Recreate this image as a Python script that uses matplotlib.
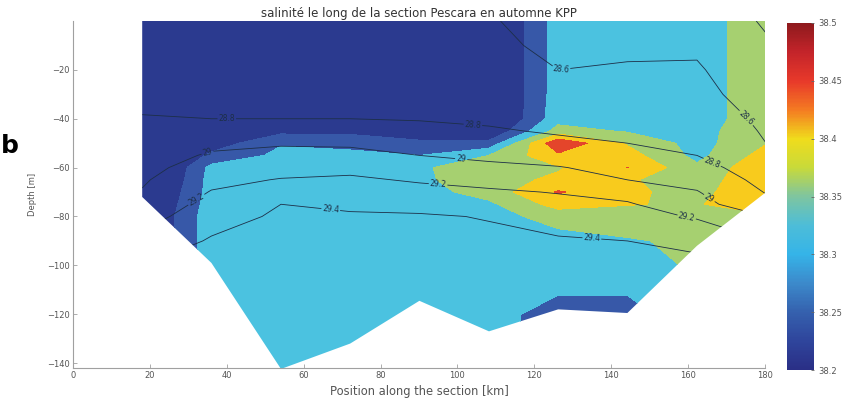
import matplotlib
matplotlib.use("Agg")
import matplotlib.pyplot as plt
import numpy as np
from matplotlib.colors import LinearSegmentedColormap, Normalize
from matplotlib.patches import Polygon
import matplotlib.cm as cm

# ---------------- data ----------------
stations_km = [18.0, 36.0, 54.1, 72.1, 90.1, 108.2, 126.2, 144.2, 162.3, 180.3]
bottom_m = [-72, -99, -142.4, -132, -114.5, -127, -118, -119.5, -92, -70]
depth_m = [0, -10, -20, -30, -40, -45, -50, -55, -60, -65, -70, -75, -80,
           -90, -100, -110, -120, -130, -145]

# salinity, rows = depth_m, columns = stations_km
salinity = [
    [38.17, 38.20, 38.20, 38.20, 38.20, 38.17, 38.325, 38.33, 38.33, 38.375],
    [38.17, 38.20, 38.20, 38.20, 38.20, 38.17, 38.325, 38.33, 38.33, 38.375],
    [38.17, 38.20, 38.20, 38.20, 38.20, 38.17, 38.325, 38.33, 38.33, 38.375],
    [38.17, 38.20, 38.20, 38.20, 38.20, 38.17, 38.325, 38.33, 38.33, 38.375],
    [38.17, 38.20, 38.20, 38.20, 38.20, 38.17, 38.33, 38.33, 38.33, 38.375],
    [38.17, 38.21, 38.235, 38.24, 38.22, 38.20, 38.37, 38.345, 38.33, 38.39],
    [38.16, 38.22, 38.296, 38.275, 38.26, 38.265, 38.49, 38.395, 38.33, 38.398],
    [38.14, 38.262, 38.312, 38.32, 38.30, 38.35, 38.44, 38.42, 38.335, 38.42],
    [38.13, 38.315, 38.32, 38.32, 38.345, 38.37, 38.395, 38.451, 38.36, 38.44],
    [38.14, 38.32, 38.32, 38.32, 38.34, 38.38, 38.41, 38.405, 38.375, 38.44],
    [38.16, 38.32, 38.32, 38.32, 38.33, 38.37, 38.455, 38.408, 38.385, 38.44],
    [38.17, 38.325, 38.32, 38.32, 38.325, 38.34, 38.42, 38.402, 38.395, 38.44],
    [38.18, 38.33, 38.32, 38.32, 38.32, 38.33, 38.37, 38.38, 38.385, 38.39],
    [38.18, 38.33, 38.32, 38.32, 38.32, 38.32, 38.33, 38.345, 38.36, 38.38],
    [38.18, 38.33, 38.32, 38.32, 38.32, 38.32, 38.32, 38.32, 38.36, 38.38],
    [38.18, 38.33, 38.32, 38.32, 38.32, 38.33, 38.31, 38.31, 38.36, 38.38],
    [38.18, 38.33, 38.32, 38.32, 38.32, 38.33, 38.265, 38.265, 38.36, 38.38],
    [38.18, 38.33, 38.32, 38.32, 38.32, 38.33, 38.265, 38.265, 38.36, 38.38],
    [38.18, 38.33, 38.32, 38.32, 38.32, 38.33, 38.265, 38.265, 38.36, 38.38],
]

# density (sigma), rows = depth_m, columns = stations_km
density = [
    [28.70, 28.70, 28.70, 28.70, 28.70, 28.62, 28.50, 28.50, 28.52, 28.38],
    [28.71, 28.71, 28.71, 28.71, 28.71, 28.65, 28.55, 28.56, 28.57, 28.42],
    [28.72, 28.72, 28.72, 28.72, 28.72, 28.68, 28.60, 28.62, 28.62, 28.46],
    [28.75, 28.75, 28.75, 28.75, 28.74, 28.72, 28.66, 28.66, 28.66, 28.50],
    [28.81, 28.80, 28.80, 28.80, 28.79, 28.77, 28.74, 28.72, 28.71, 28.56],
    [28.84, 28.87, 28.90, 28.88, 28.85, 28.82, 28.78, 28.76, 28.74, 28.58],
    [28.88, 28.96, 28.98, 28.97, 28.92, 28.89, 28.84, 28.80, 28.77, 28.60],
    [28.92, 29.02, 29.06, 29.06, 29.00, 28.96, 28.92, 28.86, 28.80, 28.64],
    [28.95, 29.08, 29.13, 29.15, 29.09, 29.04, 29.01, 28.94, 28.87, 28.69],
    [28.98, 29.15, 29.21, 29.23, 29.18, 29.13, 29.10, 29.00, 28.94, 28.74],
    [29.01, 29.21, 29.30, 29.30, 29.26, 29.23, 29.19, 29.13, 29.01, 28.79],
    [29.05, 29.27, 29.40, 29.37, 29.34, 29.31, 29.26, 29.22, 29.07, 28.85],
    [29.12, 29.32, 29.43, 29.42, 29.42, 29.39, 29.32, 29.28, 29.18, 29.00],
    [29.26, 29.42, 29.45, 29.45, 29.45, 29.44, 29.42, 29.40, 29.36, 29.20],
    [29.40, 29.45, 29.46, 29.46, 29.46, 29.46, 29.45, 29.45, 29.44, 29.40],
    [29.45, 29.46, 29.47, 29.47, 29.47, 29.47, 29.46, 29.46, 29.46, 29.45],
    [29.46, 29.47, 29.48, 29.48, 29.48, 29.48, 29.47, 29.47, 29.47, 29.46],
    [29.46, 29.47, 29.48, 29.48, 29.48, 29.48, 29.47, 29.47, 29.47, 29.46],
    [29.46, 29.47, 29.48, 29.48, 29.48, 29.48, 29.47, 29.47, 29.47, 29.46],
]

fill_levels = [38.0, 38.25, 38.30, 38.35, 38.40, 38.45, 38.6]
density_levels = [28.4, 28.6, 28.8, 29.0, 29.2, 29.4]
cbar_ticks = [38.2, 38.25, 38.3, 38.35, 38.4, 38.45, 38.5]
cbar_labels = ["38.2", "38.25", "38.3", "38.35", "38.4", "38.45", "38.5"]
xticks = [0, 20, 40, 60, 80, 100, 120, 140, 160, 180]
yticks = [-140, -120, -100, -80, -60, -40, -20]

title = "salinité le long de la section Pescara en automne KPP"
xlabel = "Position along the section [km]"
ylabel = "Depth [m]"
panel_letter = "b"

# ---------------- style ----------------
fill_colors = ["#2b3a8f", "#3758a8", "#4bc2e0", "#a6d070", "#f8cb1d", "#e4452b"]
cbar_colors = ["#2a2f86", "#2f459c", "#3561ae", "#3c8acb", "#35b4e8", "#4dbdd8",
               "#7ec5a0", "#c8da3a", "#f0dc1c", "#f47b22", "#e8392a", "#c4242a", "#8e1a1d"]
line_color = "#1d2f48"
text_gray = "#555555"
axis_gray = "#a0a0a0"

fig = plt.figure(figsize=(8.63, 3.99), dpi=100)
ax = fig.add_axes([73 / 863, 31 / 399, 692 / 863, 347 / 399])

cf = ax.contourf(stations_km, depth_m, np.array(salinity), levels=fill_levels,
                 colors=fill_colors, zorder=1)
cs = ax.contour(stations_km, depth_m, np.array(density), levels=density_levels,
                colors=line_color, linewidths=0.6, zorder=2)

section = Polygon([(stations_km[0], 0)] + list(zip(stations_km, bottom_m)) +
                  [(stations_km[-1], 0)], closed=True, transform=ax.transData,
                  facecolor="none", edgecolor="none")
cf.set_clip_path(section)
cs.set_clip_path(section)

label_pos = [(40, -40), (104, -43), (166, -59), (35, -54), (101, -56), (166, -71),
             (31.7, -72), (95, -66), (159.7, -79.5), (67, -78), (135, -88),
             (127, -21), (174, -42)]
ax.clabel(cs, fmt="%g", fontsize=5.5, inline=True, inline_spacing=2,
          manual=label_pos, colors=line_color)

ax.set_xlim(0, 180)
ax.set_ylim(-142, 0)
ax.set_xticks(xticks)
ax.set_yticks(yticks)
for s in ["top", "right"]:
    ax.spines[s].set_visible(False)
for s in ["left", "bottom"]:
    ax.spines[s].set_color(axis_gray)
    ax.spines[s].set_linewidth(0.8)
ax.tick_params(direction="in", length=3, width=0.6, color=axis_gray,
               labelcolor=text_gray, labelsize=6, pad=2.5)
ax.set_title(title, fontsize=8.5, color="#333333", pad=3)
ax.set_xlabel(xlabel, fontsize=8.3, color=text_gray, labelpad=3)
ax.set_ylabel(ylabel, fontsize=6, color=text_gray, labelpad=7)

cax = fig.add_axes([787 / 863, 29 / 399, 27 / 863, 347 / 399])
cmap = LinearSegmentedColormap.from_list("washed_jet", cbar_colors)
sm = cm.ScalarMappable(norm=Normalize(38.2, 38.5), cmap=cmap)
cb = fig.colorbar(sm, cax=cax, ticks=cbar_ticks)
cb.set_ticklabels(cbar_labels)
cb.outline.set_visible(False)
cax.tick_params(direction="in", length=2.5, width=0.6, color="#666666",
                labelcolor=text_gray, labelsize=6, pad=3)

fig.text(1 / 863, (399 - 153) / 399, panel_letter, fontsize=18, fontweight="bold",
         ha="left", va="baseline", color="black")

fig.savefig("out.png", dpi=100)
